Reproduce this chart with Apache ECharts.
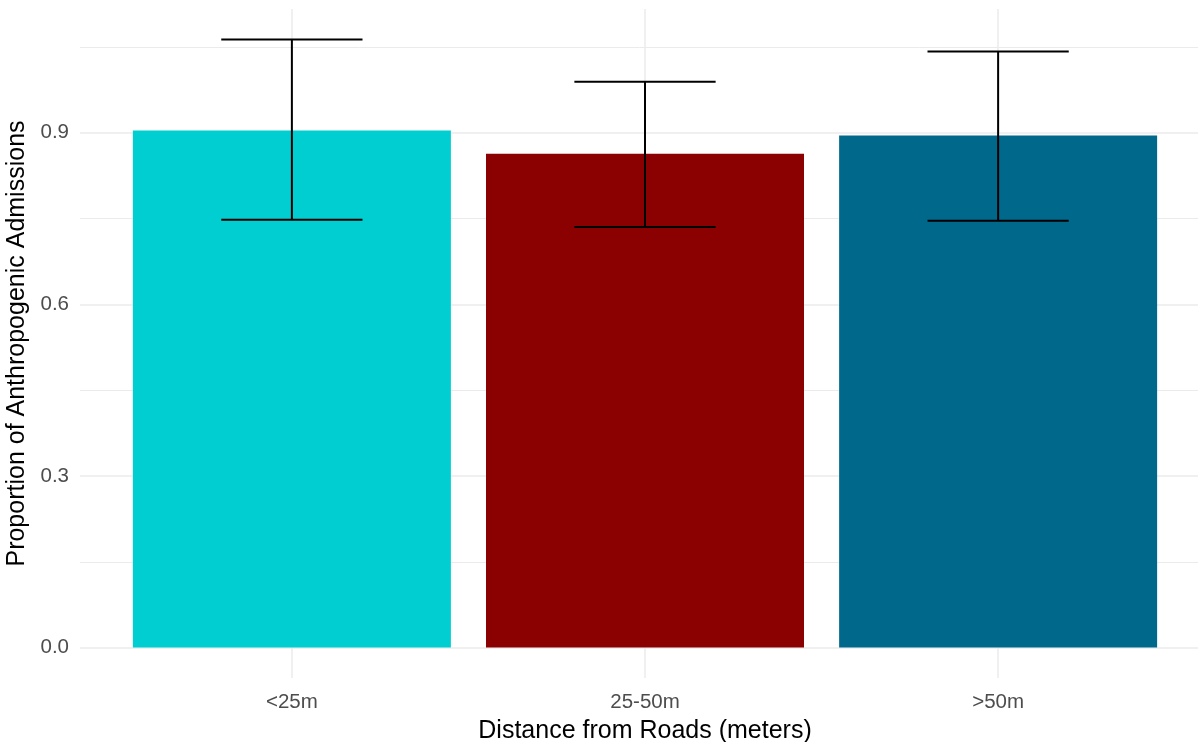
<!DOCTYPE html>
<html lang="en">
<head>
    <meta charset="UTF-8">
    <title>Anthropogenic Admissions</title>
    <script src="https://cdn.jsdelivr.net/npm/echarts@6.0.0/dist/echarts.min.js"></script>
    <style type="text/css">
        body{
            margin:0;
            background:#fff;
        }
    </style>
</head>
<body>
<div id="main" style="width: 1198px;height:742px;"></div>
<script type="text/javascript">
    // values
    var categories = ['<25m', '25-50m', '>50m'];
    var proportions = [0.904, 0.863, 0.895];
    var lowerCI = [0.748, 0.735, 0.746];
    var upperCI = [1.063, 0.989, 1.042];
    var barColors = ['#00CED1', '#8B0000', '#00688B'];
    var yTicks = [0, 0.3, 0.6, 0.9];
    var yMinorTicks = [0.15, 0.45, 0.75, 1.05];

    var font = 'Liberation Sans, Arial, sans-serif';
    var myChart = echarts.init(document.getElementById('main'));

    var barData = [];
    var errData = [];
    var gridLines = [];
    for (var i = 0; i < categories.length; i++) {
        barData.push({value: [i + 1, proportions[i]], itemStyle: {color: barColors[i]}});
        errData.push([i + 1, lowerCI[i], upperCI[i]]);
        gridLines.push({xAxis: i + 1, lineStyle: {width: 1.5}});
    }
    for (var j = 0; j < yTicks.length; j++) {
        gridLines.push({yAxis: yTicks[j], lineStyle: {width: 1.5}});
    }
    for (var k = 0; k < yMinorTicks.length; k++) {
        gridLines.push({yAxis: yMinorTicks[k], lineStyle: {width: 1}});
    }

    // ggplot style 5% expansion on y, 0.6 on discrete x
    var yMax = Math.max.apply(null, upperCI);
    var yPad = yMax * 0.05;

    var option = {
        animation: false,
        backgroundColor: '#ffffff',
        grid: {left: 80, top: 9, right: -12, bottom: 64, containLabel: false, outerBoundsMode: 'none'},
        xAxis: {
            type: 'value',
            min: 0.4,
            max: 3.6,
            name: 'Distance from Roads (meters)',
            nameLocation: 'middle',
            nameGap: 41,
            nameTextStyle: {fontFamily: font, fontSize: 25, color: '#000'},
            axisLine: {show: false},
            axisTick: {show: false},
            splitLine: {show: false},
            axisLabel: {
                customValues: [1, 2, 3],
                formatter: function (v) { return categories[Math.round(v) - 1]; },
                fontFamily: font, fontSize: 20.5, color: '#4D4D4D', margin: 14
            }
        },
        yAxis: {
            type: 'value',
            min: -yPad,
            max: yMax + yPad,
            name: 'Proportion of Anthropogenic Admissions',
            nameLocation: 'middle',
            nameGap: 45,
            nameTextStyle: {fontFamily: font, fontSize: 25, color: '#000'},
            axisLine: {show: false},
            axisTick: {show: false},
            splitLine: {show: false},
            axisLabel: {
                customValues: yTicks,
                formatter: function (v) { return v.toFixed(1); },
                fontFamily: font, fontSize: 20.5, color: '#4D4D4D', margin: 11
            }
        },
        series: [
            {
                type: 'line',
                data: [],
                z: 1,
                silent: true,
                markLine: {
                    z: 1,
                    silent: true,
                    symbol: ['none', 'none'],
                    label: {show: false},
                    lineStyle: {type: 'solid', color: '#EBEBEB'},
                    data: gridLines
                }
            },
            {
                type: 'bar',
                z: 2,
                barWidth: 318,
                data: barData
            },
            {
                type: 'custom',
                z: 3,
                data: errData,
                renderItem: function (params, api) {
                    var x = api.value(0);
                    var lo = api.coord([x, api.value(1)]);
                    var hi = api.coord([x, api.value(2)]);
                    var half = api.size([0.2, 0])[0];
                    var style = {stroke: '#000', lineWidth: 2};
                    return {
                        type: 'group',
                        children: [
                            {type: 'line', shape: {x1: hi[0], y1: hi[1], x2: lo[0], y2: lo[1]}, style: style},
                            {type: 'line', shape: {x1: hi[0] - half, y1: hi[1], x2: hi[0] + half, y2: hi[1]}, style: style},
                            {type: 'line', shape: {x1: lo[0] - half, y1: lo[1], x2: lo[0] + half, y2: lo[1]}, style: style}
                        ]
                    };
                }
            }
        ]
    };
    myChart.setOption(option);
</script>
</body>
</html>
